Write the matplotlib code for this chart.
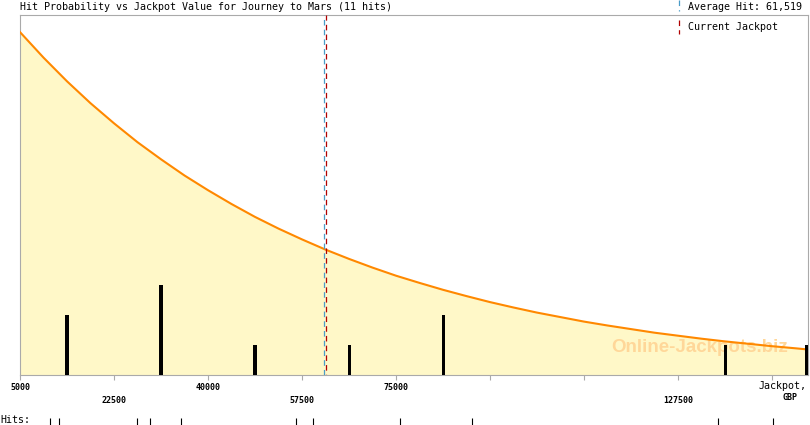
import numpy as np
import matplotlib
matplotlib.use('Agg')
import matplotlib.pyplot as plt

plt.rcParams['lines.scale_dashes'] = False

hits = [10600, 12250, 26800, 29200, 35000, 56400, 59550, 75750, 89150, 135000, 145200]

# fitted probability curve (in bar-count units), every 4375 GBP
curve_jackpot = [5000 + 4375 * k for k in range(34)] + [151700]
curve_prob = [11.43, 10.58, 9.79, 9.06, 8.39, 7.76, 7.19, 6.65, 6.16, 5.70,
              5.27, 4.88, 4.52, 4.18, 3.87, 3.58, 3.31, 3.07, 2.84, 2.63,
              2.43, 2.25, 2.08, 1.93, 1.78, 1.65, 1.53, 1.41, 1.31, 1.21,
              1.12, 1.04, 0.96, 0.89, 0.85]

average_hit = 61519
current_jackpot = 61900

bin_edges = [5000 + 17500 * k for k in range(10)]
tick_values = bin_edges[:9]
tick_labels = ['5000', '\n22500', '40000', '\n57500', '75000', '', '', '\n127500', '']

x_min, x_max = 5000, 151700

mono = 'DejaVu Sans Mono'
grey = '#AAAAAA'

fig = plt.figure(figsize=(8.1, 4.25), dpi=100)
ax = fig.add_axes([20 / 810, 50 / 425, 788 / 810, 360 / 425])

ax.fill_between(curve_jackpot, curve_prob, color='#FFF8C8', lw=0, zorder=1)
ax.text(0.863, 0.077, 'Online-Jackpots.biz', transform=ax.transAxes, ha='center', va='center',
        family='Liberation Sans', weight='bold', fontsize=13.5, color='#FFD799', zorder=1.5)
ax.plot(curve_jackpot, curve_prob, color='#FF8800', lw=1.5, zorder=3)

counts, _ = np.histogram(hits, bins=bin_edges)
centers = np.array(bin_edges[:-1]) + 8750
bar_w = 560
centers = np.minimum(centers, x_max - bar_w / 2)
ax.bar(centers, counts, width=bar_w, color='black', lw=0, zorder=4)

ax.axvline(average_hit, color='#4A9CC8', lw=0.9, ls=(0, (4, 3)), zorder=5)
ax.axvline(current_jackpot, color='#B00000', lw=0.9, ls=(3.5, (4, 3)), zorder=5)

ax.set_xlim(x_min, x_max)
ax.set_ylim(0, 12)
ax.set_yticks([])
for s in ax.spines.values():
    s.set_color(grey)
    s.set_linewidth(0.8)

ax.set_xticks(tick_values, tick_labels)
ax.tick_params(axis='x', direction='out', length=3.6, width=0.8, color=grey, pad=2.5)
for lab in ax.get_xticklabels():
    lab.set_family(mono)
    lab.set_weight('bold')
    lab.set_fontsize(6)
    lab.set_linespacing(1.45)

# axis caption at the right end
fig.text(807 / 810, 1 - 386 / 425, 'Jackpot,', ha='right', va='center', family=mono, fontsize=7.2)
fig.text(790 / 810, 1 - 398 / 425, 'GBP', ha='center', va='center', family=mono,
         weight='bold', fontsize=6)

# title and legend
fig.text(20 / 810, 1 - 7 / 425, 'Hit Probability vs Jackpot Value for Journey to Mars (11 hits)',
         ha='left', va='center', family=mono, fontsize=7.2)
fig.text(688 / 810, 1 - 7 / 425, 'Average Hit: 61,519', ha='left', va='center',
         family=mono, fontsize=7.2)
fig.text(688 / 810, 1 - 27 / 425, 'Current Jackpot', ha='left', va='center',
         family=mono, fontsize=7.2)
fig.add_artist(plt.Line2D([679 / 810, 679 / 810], [1 - 0 / 425, 1 - 11 / 425],
                          color='#4A9CC8', lw=0.9, ls=(0, (4, 3))))
fig.add_artist(plt.Line2D([679 / 810, 679 / 810], [1 - 20 / 425, 1 - 34 / 425],
                          color='#B00000', lw=0.9, ls=(0, (4, 3))))

# hits strip
ax2 = fig.add_axes([20 / 810, 0, 788 / 810, 7 / 425])
ax2.vlines(hits, 0, 1, color='black', lw=0.8)
ax2.set_xlim(x_min, x_max)
ax2.set_ylim(0, 1)
ax2.axis('off')
fig.text(0, 5 / 425, 'Hits:', ha='left', va='center', family=mono, fontsize=7.2)

fig.savefig('out.png', dpi=100)
